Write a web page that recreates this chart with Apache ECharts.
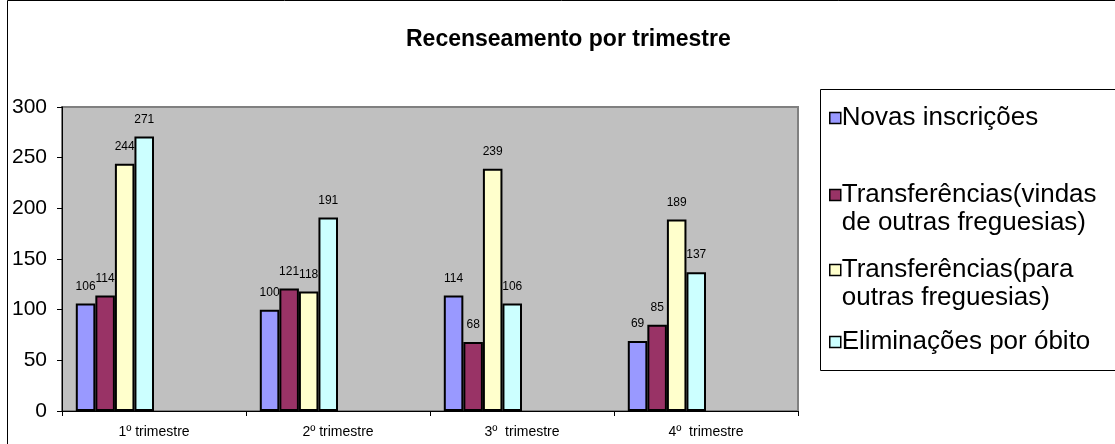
<!DOCTYPE html>
<html>
<head>
<meta charset="utf-8">
<script src="https://cdn.jsdelivr.net/npm/echarts@6/dist/echarts.min.js"></script>
<style>
html,body{margin:0;padding:0;background:#fff;}
#chart{width:1115px;height:444px;}
</style>
</head>
<body>
<div id="chart"></div>
<script>
const title = 'Recenseamento por trimestre';
const categories = ['1º trimestre', '2º trimestre', '3º  trimestre', '4º  trimestre'];
const seriesNames = [
  'Novas inscrições',
  'Transferências(vindas de outras freguesias)',
  'Transferências(para outras freguesias)',
  'Eliminações por óbito'
];
const legendLabels = [
  'Novas inscrições',
  'Transferências(vindas\nde outras freguesias)',
  'Transferências(para\noutras freguesias)',
  'Eliminações por óbito'
];
const novasInscricoes = [106, 100, 114, 69];
const transfVindas = [114, 121, 68, 85];
const transfPara = [244, 118, 239, 189];
const eliminacoesObito = [271, 191, 106, 137];
const yTicks = [0, 50, 100, 150, 200, 250, 300];

const colors = ['#9999FF', '#993366', '#FFFFCC', '#CCFFFF'];
const values = [novasInscricoes, transfVindas, transfPara, eliminacoesObito];
const FONT = 'Liberation Sans, Arial, sans-serif';

const chart = echarts.init(document.getElementById('chart'), null, {renderer: 'canvas'});

const series = values.map((vals, i) => ({
  name: seriesNames[i],
  type: 'bar',
  data: vals,
  itemStyle: {color: colors[i], borderColor: '#000', borderWidth: 2},
  label: {show: true, position: 'top', distance: 11, color: '#000', fontSize: 12, fontFamily: FONT},
  emphasis: {disabled: true}
}));
// empty placeholder series (the source chart reserves room for 8 series per category)
for (let k = 0; k < 4; k++) {
  series.push({name: 'vazio' + k, type: 'bar', data: [], silent: true});
}

// first-line centre of each legend entry
const legendCentres = [118, 195, 270, 342];
const LINE_H = 28;
const legends = seriesNames.map((n, i) => {
  const twoLines = legendLabels[i].indexOf('\n') >= 0;
  return {
    data: [n],
    orient: 'vertical',
    left: 829,
    top: legendCentres[i] - LINE_H / 2,
    padding: 0,
    itemWidth: 11,
    itemHeight: twoLines ? 11 + LINE_H : 11,
    itemGap: 0,
    selectedMode: false,
    // for two-line entries the square sits beside the first line
    icon: twoLines ? 'path://M0,0H11V11H0Z M0,39L0.001,39' : 'rect',
    itemStyle: {borderColor: '#000', borderWidth: 1.5},
    textStyle: {
      fontSize: 26, color: '#000', fontFamily: FONT, lineHeight: LINE_H,
      padding: [0, 0, 0, -4]
    },
    formatter: () => legendLabels[i]
  };
});

chart.setOption({
  animation: false,
  backgroundColor: '#fff',
  title: {
    text: title,
    left: 401,
    top: 23,
    textStyle: {fontSize: 23, fontWeight: 'bold', color: '#000', fontFamily: FONT}
  },
  legend: legends,
  grid: {
    left: 62, right: 317, top: 107, bottom: 33,
    show: true, backgroundColor: '#C0C0C0', borderColor: '#808080', borderWidth: 2
  },
  xAxis: {
    type: 'category',
    data: categories,
    axisLine: {lineStyle: {color: '#000', width: 1}},
    axisTick: {show: true, alignWithLabel: false, length: 5, lineStyle: {color: '#000'}},
    axisLabel: {color: '#000', fontSize: 14, fontFamily: FONT, margin: 14}
  },
  yAxis: {
    type: 'value',
    min: 0, max: 300, interval: 50,
    axisLine: {show: true, lineStyle: {color: '#000', width: 1}},
    axisTick: {show: true, length: 5, lineStyle: {color: '#000'}},
    axisLabel: {color: '#000', fontSize: 21, fontFamily: FONT, margin: 15},
    splitLine: {show: false}
  },
  barCategoryGap: '15%',
  barGap: '0%',
  series: series,
  graphic: [
    {type: 'rect', shape: {x: 7.5, y: 0.5, width: 1200, height: 460}, style: {fill: 'none', stroke: '#000', lineWidth: 1}, silent: true},
    {type: 'rect', shape: {x: 820.5, y: 89.5, width: 400, height: 281}, style: {fill: 'none', stroke: '#000', lineWidth: 1}, silent: true, z: -1}
  ]
});
</script>
</body>
</html>
